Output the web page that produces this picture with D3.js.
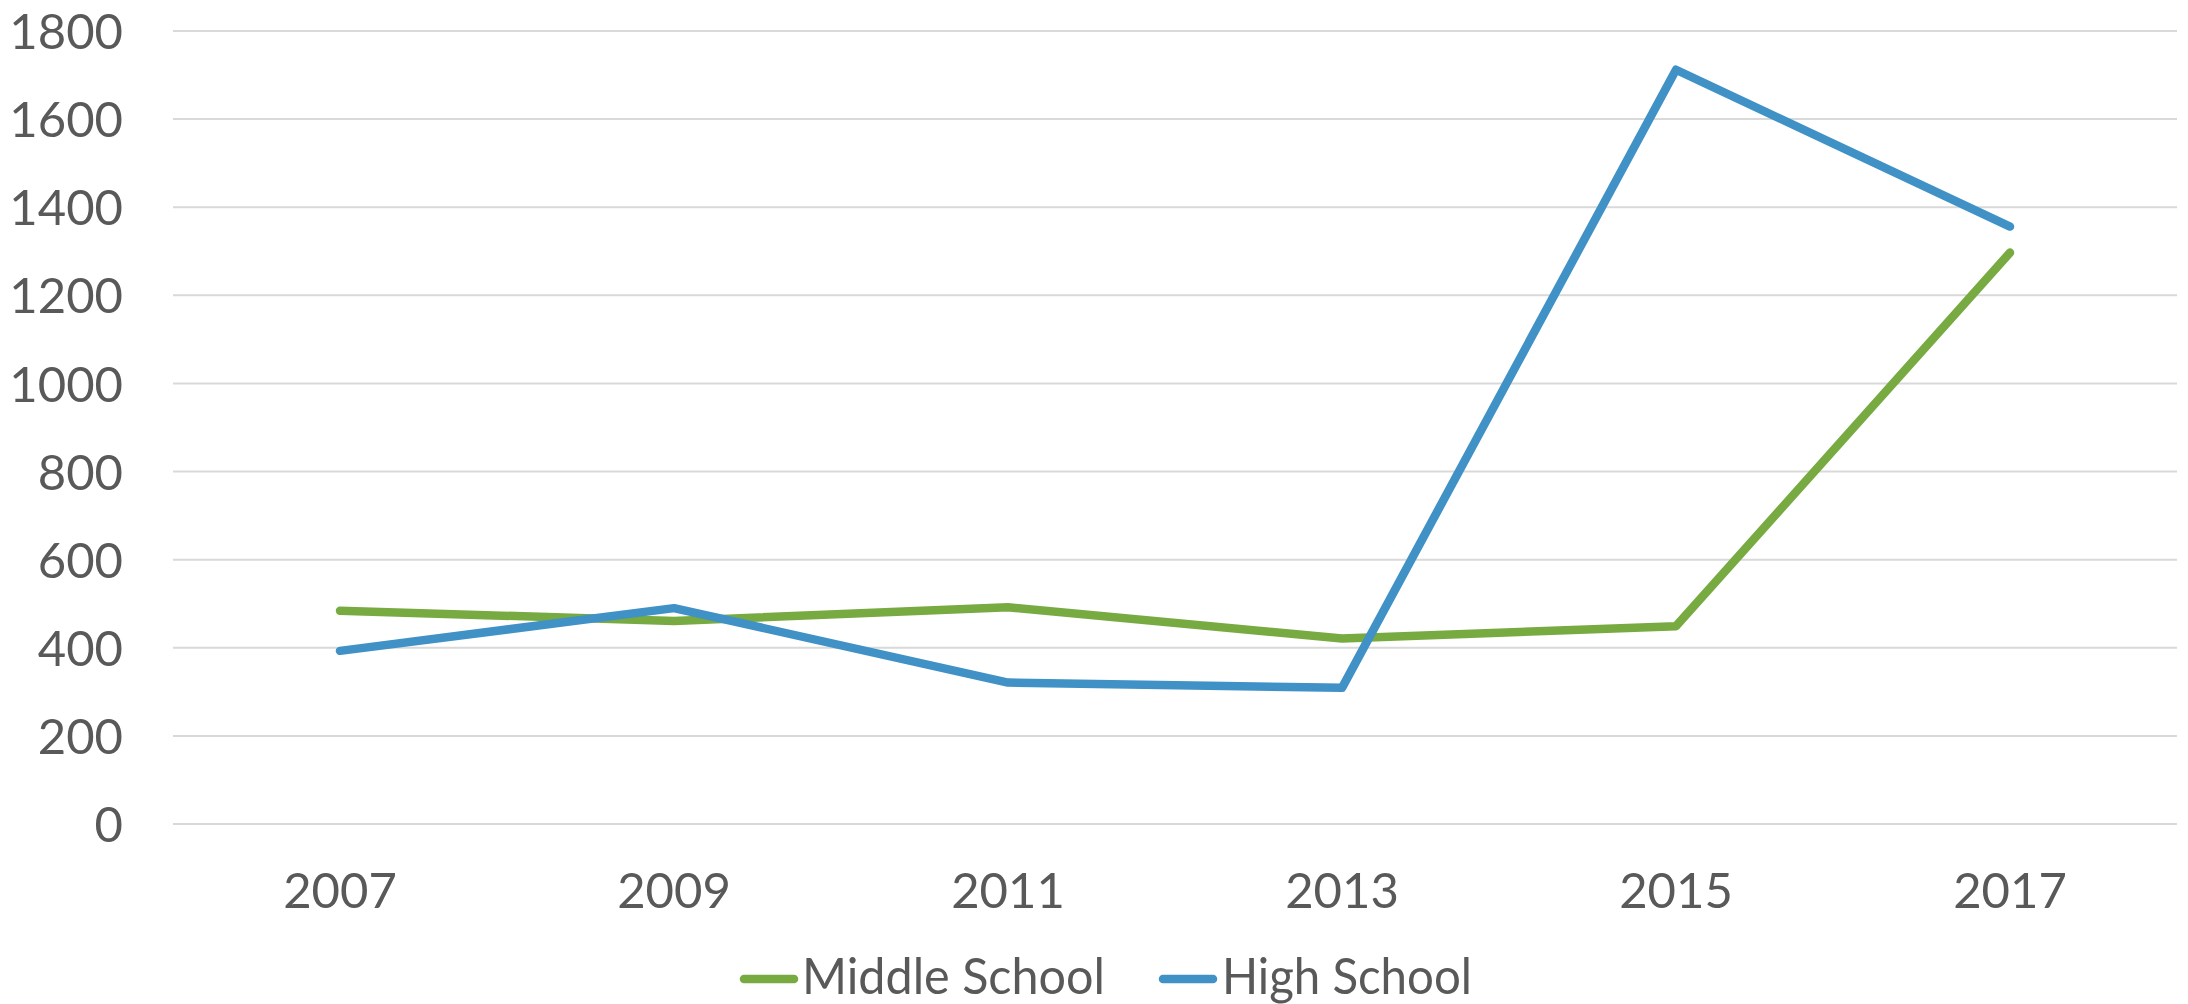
<!DOCTYPE html>
<html><head><meta charset="utf-8">
<script src="https://cdn.jsdelivr.net/npm/d3@7"></script>
<style>html,body{margin:0;padding:0;background:#fff;}svg{display:block;}</style>
</head><body>
<svg id="chart" width="2188" height="1004"></svg>
<script>
const categories = ["2007","2009","2011","2013","2015","2017"];
const middleSchool = [484, 461, 492, 421, 449, 1297];
const highSchool = [393, 490, 321, 309, 1712, 1356];
const yTicks = [0,200,400,600,800,1000,1200,1400,1600,1800];
const seriesNames = ["Middle School","High School"];
const seriesColors = ["#78AA42","#4091C6"];

(function(){
const svg = d3.select("#chart");
const pLeft = 173, pRight = 2177, pTop = 31, pBottom = 824;
const x = d3.scaleBand().domain(categories).range([pLeft, pRight]);
const y = d3.scaleLinear().domain([0, 1800]).range([pBottom, pTop]);
const font = "Lato, 'Open Sans', sans-serif";
const textColor = "#595959";

svg.append("g").selectAll("line").data(yTicks).join("line")
  .attr("x1", pLeft).attr("x2", pRight)
  .attr("y1", d => y(d)).attr("y2", d => y(d))
  .attr("stroke", "#D9D9D9").attr("stroke-width", 2);

const yAxis = d3.axisLeft(y).tickValues(yTicks).tickFormat(d3.format("d")).tickSize(0).tickPadding(0);
const yg = svg.append("g").attr("transform", "translate(123,0)").call(yAxis);
yg.select(".domain").remove();
yg.selectAll("text").attr("font-family", font).attr("font-size", 49)
  .attr("fill", textColor).attr("dy", "0.36em");

const xAxis = d3.axisBottom(x).tickSize(0).tickPadding(0);
const xg = svg.append("g").attr("transform", "translate(0,890)").call(xAxis);
xg.select(".domain").remove();
xg.selectAll("text").attr("font-family", font).attr("font-size", 49)
  .attr("fill", textColor).attr("dy", "0.36em");

const line = d3.line().x((d, i) => x(categories[i]) + x.bandwidth() / 2).y(d => y(d));
[middleSchool, highSchool].forEach((s, i) => {
  svg.append("path").datum(s).attr("d", line)
    .attr("fill", "none").attr("stroke", seriesColors[i]).attr("stroke-width", 8.5)
    .attr("stroke-linejoin", "round").attr("stroke-linecap", "round");
});

const legendItems = [{x: 740, tx: 802, w: 303}, {x: 1159, tx: 1222, w: 250}];
seriesNames.forEach((n, i) => {
  const g = svg.append("g");
  g.append("line").attr("x1", legendItems[i].x + 4).attr("x2", legendItems[i].x + 54)
    .attr("y1", 979).attr("y2", 979)
    .attr("stroke", seriesColors[i]).attr("stroke-width", 8.5).attr("stroke-linecap", "round");
  g.append("text").attr("x", legendItems[i].tx).attr("y", 994)
    .attr("font-family", font).attr("font-size", 51).attr("fill", textColor)
    .attr("textLength", legendItems[i].w).attr("lengthAdjust", "spacingAndGlyphs").text(n);
});
})();
</script>
</body></html>
